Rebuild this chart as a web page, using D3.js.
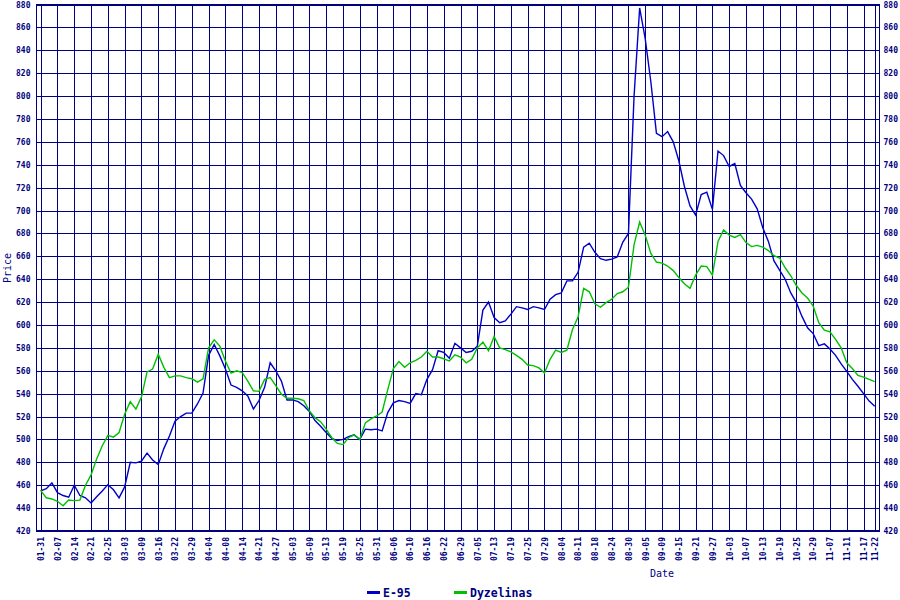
<!DOCTYPE html>
<html>
<head>
<meta charset="utf-8">
<script src="https://cdnjs.cloudflare.com/ajax/libs/d3/7.8.5/d3.min.js"></script>
<style>
  body { margin: 0; background: #ffffff; }
  text { font-family: "DejaVu Sans Mono", "Liberation Mono", monospace; fill: #000080; }
</style>
</head>
<body>
<script>
// Define SVG area dimensions
var svgWidth = 900;
var svgHeight = 600;

// Date labels along the bottom (one every five trading days)
var dateLabels = [
  "01-31", "02-07", "02-14", "02-21", "02-25", "03-03", "03-09", "03-16", "03-22", "03-29",
  "04-04", "04-08", "04-14", "04-21", "04-27", "05-03", "05-09", "05-13", "05-19", "05-25",
  "05-31", "06-06", "06-10", "06-16", "06-22", "06-29", "07-05", "07-13", "07-19", "07-25",
  "07-29", "08-04", "08-11", "08-18", "08-24", "08-30", "09-05", "09-09", "09-15", "09-21",
  "09-27", "10-03", "10-07", "10-13", "10-19", "10-25", "10-29", "11-07", "11-11", "11-17",
  "11-22"
];

// Price ticks on both sides
var priceTicks = d3.range(420, 881, 20);

// E-95 prices, read three times per label interval
var e95Prices = [
  455, 457, 462, 453.5, 451, 449.5, 460, 451, 449, 444.5,
  450, 455, 460.5, 456, 449, 458.5, 480, 479.5, 481, 488,
  482, 478, 492, 503, 516, 520, 523, 523, 531, 540.5,
  573.5, 583, 573, 561.5, 547.5, 545.5, 542.5, 538, 526.5, 534,
  545.5, 567, 560, 551, 534.5, 534.5, 533, 529.5, 524.5, 516.5,
  511.5, 506, 501, 499, 500, 502.5, 504, 500, 509, 508.5,
  509, 507.5, 523.5, 532, 534, 533, 531.5, 540, 539, 552.5,
  561, 577.5, 576, 571, 584, 580, 576, 577, 581.5, 613,
  620, 606.5, 602, 603.5, 609.5, 616, 615, 613.5, 616, 615,
  613.5, 622.5, 626.5, 628, 638.5, 638.5, 646, 668, 671.5, 663.5,
  658, 656.5, 657.5, 659.5, 672.5, 680, 799.5, 877, 850, 812.5,
  767.5, 764.5, 769, 760, 743.5, 721, 704, 696, 714, 716,
  701, 752, 748, 738.5, 741, 722, 715.5, 710, 701.5, 685,
  673, 656, 648, 640, 628, 619.5, 607.5, 597.5, 592.5, 582,
  583.5, 579, 573.5, 566, 559.5, 552.5, 546.5, 540, 533.5, 529
];

// Dyzelinas (diesel) prices, same readings
var dieselPrices = [
  455.5, 449, 448, 446, 442, 447, 446.5, 447, 460, 469,
  483, 494.5, 503.5, 502, 506, 522, 533, 526.5, 537, 559,
  561.5, 574.5, 563, 554, 555.5, 555.5, 554, 553, 550, 553,
  580, 587, 581.5, 568.5, 558, 560, 558.5, 551, 542.5, 542,
  552.5, 554, 547, 539.5, 536, 536, 535.5, 534, 525, 519,
  515.5, 509, 501.5, 496.5, 495.5, 501.5, 504, 500, 514.5, 518,
  520.5, 524, 543.5, 562, 568, 563, 567, 569, 572, 577,
  572, 572, 570.5, 568.5, 574, 572, 567, 570, 580, 585,
  577.5, 590, 580, 578.5, 576.5, 573.5, 570, 565, 564.5, 562.5,
  558, 570, 578, 576, 578, 596, 607, 632, 629, 618.5,
  615.5, 619.5, 622.5, 627.5, 629, 633, 670, 690, 678.5, 662.5,
  655, 654, 651.5, 647.5, 641.5, 636, 632, 643.5, 651.5, 651,
  643.5, 673, 683, 678.5, 676.5, 679, 672, 668.5, 669.5, 668,
  665, 660.5, 658.5, 650, 643, 634.5, 628, 623.5, 616.5, 602,
  595.5, 594, 587.5, 580, 567, 562, 556, 554.5, 552.5, 550.5
];

var samplesPerLabel = 3;
var seriesNames = ["E-95", "Dyzelinas"];
var seriesColors = ["#0000c8", "#00c000"];
var navy = "#000080";

// Plot frame
var plot = { left: 36.5, right: 879.5, top: 4.5, bottom: 531 };
var plotWidth = plot.right - plot.left;
var plotHeight = plot.bottom - plot.top;

// label position in "label interval" units; last label sits on the last reading
var lastPos = (e95Prices.length - 1) / samplesPerLabel;
var labelPos = dateLabels.map((d, i) => i < dateLabels.length - 1 ? i : lastPos);

var xScale = d3.scaleLinear()
  .domain([-0.25, 49.95])
  .range([plot.left, plot.right]);

var yScale = d3.scaleLinear()
  .domain([420, 880])
  .range([plot.bottom, plot.top]);

var svg = d3.select("body")
  .append("svg")
  .attr("width", svgWidth)
  .attr("height", svgHeight)
  .style("display", "block");

// Horizontal grid + left labels
var yLeft = svg.append("g")
  .attr("transform", `translate(${plot.left}, 0)`)
  .call(d3.axisLeft(yScale).tickValues(priceTicks).tickSize(-plotWidth).tickPadding(6));

// Right labels
var yRight = svg.append("g")
  .attr("transform", `translate(${plot.right}, 0)`)
  .call(d3.axisRight(yScale).tickValues(priceTicks).tickSize(0).tickPadding(4));

// Vertical grid + rotated date labels
var xAxis = svg.append("g")
  .attr("transform", `translate(0, ${plot.bottom})`)
  .call(d3.axisBottom(xScale).tickValues(labelPos).tickSize(-plotHeight)
    .tickFormat((d, i) => dateLabels[i]));

[yLeft, yRight, xAxis].forEach(function(g) {
  g.select(".domain").remove();
  g.selectAll("line")
    .attr("stroke", navy)
    .attr("stroke-width", 1)
    .attr("shape-rendering", "crispEdges");
  g.selectAll("text")
    .style("font-size", "8px")
    .style("font-weight", "bold")
    .attr("fill", navy);
});

xAxis.selectAll("text")
  .attr("transform", "rotate(-90)")
  .attr("text-anchor", "end")
  .attr("x", -6)
  .attr("y", 0)
  .attr("dy", "0.35em");

// Frame
svg.append("rect")
  .attr("x", plot.left)
  .attr("y", plot.top)
  .attr("width", plotWidth)
  .attr("height", plotHeight)
  .attr("fill", "none")
  .attr("stroke", navy)
  .attr("stroke-width", 1.5)
  .attr("shape-rendering", "crispEdges");

// Price lines
var drawLine = d3.line()
  .x((d, i) => xScale(i / samplesPerLabel))
  .y(d => yScale(d));

[e95Prices, dieselPrices].forEach(function(values, s) {
  svg.append("path")
    .attr("d", drawLine(values))
    .attr("stroke", seriesColors[s])
    .attr("stroke-width", 1.4)
    .attr("fill", "none")
    .classed("line", true);
});

// Axis titles
svg.append("text")
  .attr("x", 662)
  .attr("y", 577)
  .attr("text-anchor", "middle")
  .style("font-size", "10px")
  .text("Date");

svg.append("text")
  .attr("transform", "translate(11, 268) rotate(-90)")
  .attr("text-anchor", "middle")
  .style("font-size", "10px")
  .text("Price");

// Legend
var legendX = [367, 454];
seriesNames.forEach(function(name, s) {
  svg.append("line")
    .attr("x1", legendX[s])
    .attr("x2", legendX[s] + 13)
    .attr("y1", 592.5)
    .attr("y2", 592.5)
    .attr("stroke", seriesColors[s])
    .attr("stroke-width", 3);
  svg.append("text")
    .attr("x", legendX[s] + 16)
    .attr("y", 597)
    .style("font-size", "11.5px")
    .style("font-weight", "bold")
    .text(name);
});
</script>
</body>
</html>
